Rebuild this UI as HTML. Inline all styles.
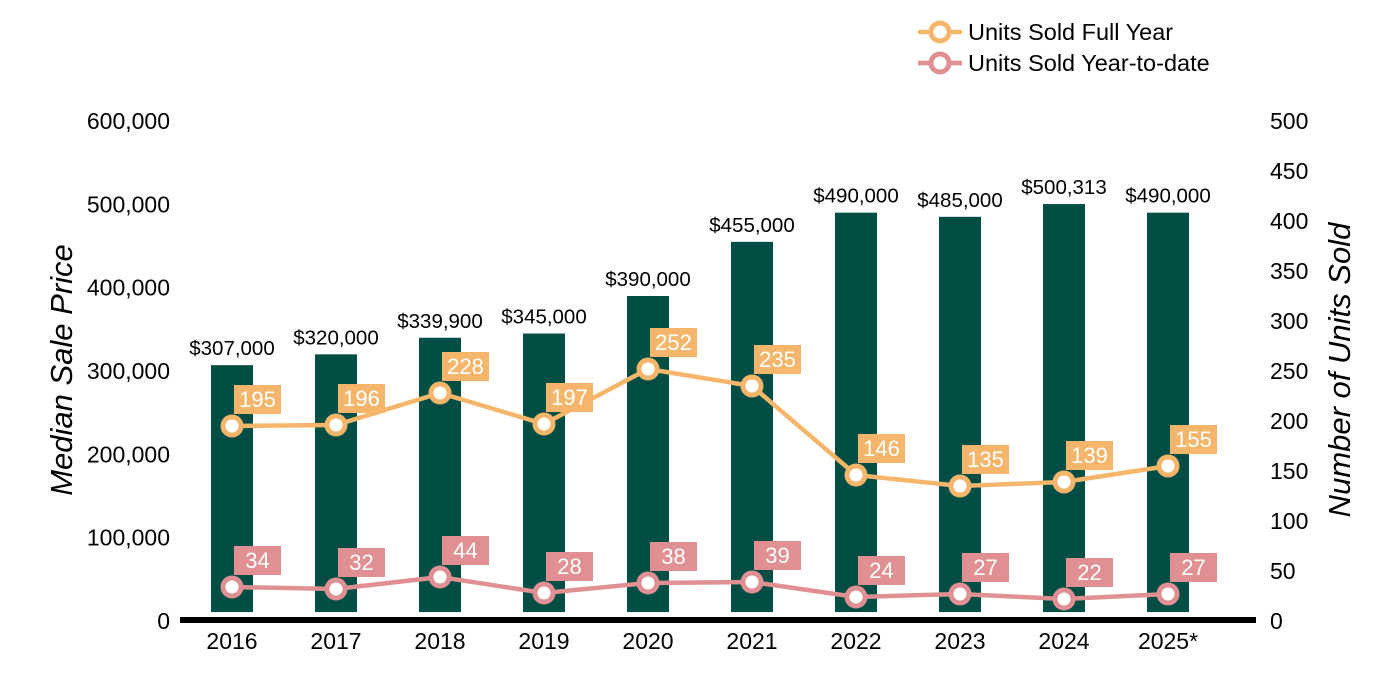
<!DOCTYPE html>
<html><head><meta charset="utf-8"><style>
body{margin:0;background:#fff;}
svg{display:block;font-family:"Liberation Sans",Arial,sans-serif;}
</style></head><body>
<svg id="chart" width="1400" height="700" viewBox="0 0 1400 700"></svg>
<script>
const categories=["2016","2017","2018","2019","2020","2021","2022","2023","2024","2025*"];
const prices=[307000,320000,339900,345000,390000,455000,490000,485000,500313,490000];
const priceLabels=["$307,000","$320,000","$339,900","$345,000","$390,000","$455,000","$490,000","$485,000","$500,313","$490,000"];
const fullYear=[195,196,228,197,252,235,146,135,139,155];
const ytd=[34,32,44,28,38,39,24,27,22,27];
const leftTicks=[0,100000,200000,300000,400000,500000,600000];
const rightTicks=[0,50,100,150,200,250,300,350,400,450,500];

const svg=document.getElementById('chart');
const NS='http://www.w3.org/2000/svg';
function mk(tag,attrs,parent){const e=document.createElementNS(NS,tag);for(const k in attrs)e.setAttribute(k,attrs[k]);(parent||svg).appendChild(e);return e;}
const y0=621,yTop=121;
const yL=v=>y0-(v/600000)*(y0-yTop);
const yR=v=>y0-(v/500)*(y0-yTop);
const xC=i=>232+i*104;
const fmt=v=>v.toLocaleString('en-US');

leftTicks.forEach(t=>{
  const e=mk('text',{x:170,y:yL(t)+8,'text-anchor':'end','font-size':23,fill:'#000'});
  e.textContent=fmt(t);
  
  
});
rightTicks.forEach(t=>{
  const e=mk('text',{x:1270,y:yR(t)+8,'text-anchor':'start','font-size':23,fill:'#000'});
  e.textContent=t;
  
  
});
let t1=mk('text',{x:0,y:0,transform:'translate(72,370) rotate(-90)','text-anchor':'middle','font-size':31,'font-style':'italic'});
t1.textContent='Median Sale Price';


let t2=mk('text',{x:0,y:0,transform:'translate(1350,370) rotate(-90)','text-anchor':'middle','font-size':31,'font-style':'italic'});
t2.textContent='Number of Units Sold';



categories.forEach((c,i)=>{
  const b=mk('rect',{x:xC(i)-21,y:yL(prices[i]),width:42,height:612-yL(prices[i]),fill:'#024d44'});
  
  
  const l=mk('text',{x:xC(i),y:yL(prices[i])-10,'text-anchor':'middle','font-size':20.5,fill:'#000'});
  l.textContent=priceLabels[i];
  
  
  const xl=mk('text',{x:xC(i),y:649,'text-anchor':'middle','font-size':23,fill:'#000'});
  xl.textContent=c;
  
  
});
const ax=mk('rect',{x:180,y:617,width:1076,height:6,fill:'#000'});



function series(vals,color,name){
  const pl=mk('polyline',{points:vals.map((v,i)=>xC(i)+','+yR(v)).join(' '),fill:'none',stroke:color,'stroke-width':4.5});
  
  
  vals.forEach((v,i)=>{
    const cx=xC(i),cy=yR(v);
    const m=mk('circle',{cx:cx,cy:cy,r:9,fill:'#fff',stroke:color,'stroke-width':5});
    
    
    const r=mk('rect',{x:cx+2,y:cy-41,width:47,height:29,fill:color});
    
    
    const t=mk('text',{x:cx+25.5,y:cy-19,'text-anchor':'middle','font-size':22,fill:'#fff'});
    t.textContent=v;
    
    
  });
}
series(fullYear,'#f5b66b','full-year');
series(ytd,'#e09092','ytd');

[['Units Sold Full Year','#f5b66b',32],['Units Sold Year-to-date','#e09092',63]].forEach(([txt,col,y])=>{
  const g=mk('g',{});
  
  
  mk('line',{x1:918,y1:y,x2:962,y2:y,stroke:col,'stroke-width':4.5},g);
  mk('circle',{cx:940,cy:y,r:9,fill:'#fff',stroke:col,'stroke-width':5},g);
  const t=mk('text',{x:968,y:y+8,'font-size':23.5,fill:'#000'},g);
  t.textContent=txt;
});
</script>
</body></html>
